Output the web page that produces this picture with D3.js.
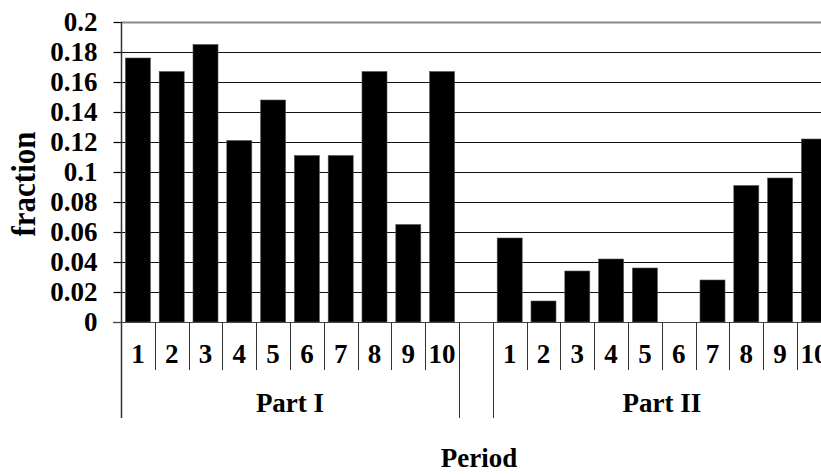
<!DOCTYPE html>
<html>
<head>
<meta charset="utf-8">
<script src="https://cdn.jsdelivr.net/npm/d3@7"></script>
<style>
  html, body { margin: 0; padding: 0; background: #fff; }
  svg { display: block; }
  text { font-family: "Liberation Serif", "Times New Roman", serif; font-weight: bold; fill: #000; }
</style>
</head>
<body>
<svg id="chart" width="821" height="474"></svg>
<script>
// ---- Data ----
const periods = ["1","2","3","4","5","6","7","8","9","10"];
const groups = ["Part I", "Part II"];
const partI = [0.176, 0.167, 0.185, 0.121, 0.148, 0.111, 0.111, 0.167, 0.065, 0.167];
const partII = [0.056, 0.014, 0.034, 0.042, 0.036, 0.0, 0.028, 0.091, 0.096, 0.122];
const yTicks = [0, 0.02, 0.04, 0.06, 0.08, 0.1, 0.12, 0.14, 0.16, 0.18, 0.2];
const yTickLabels = ["0","0.02","0.04","0.06","0.08","0.1","0.12","0.14","0.16","0.18","0.2"];
const yTitle = "fraction";
const xTitle = "Period";

// ---- Build category list (Part I, gap, Part II) ----
const cats = [];
periods.forEach((p, i) => cats.push({key: "I-" + p, label: p, group: 0, value: partI[i]}));
cats.push({key: "gap", label: "", group: -1, value: null});
periods.forEach((p, i) => cats.push({key: "II-" + p, label: p, group: 1, value: partII[i]}));

const FS = "27px";
const svg = d3.select("#chart");
const mLeft = 121, mTop = 22, mBottom = 322;
const step = 33.8;
const x = d3.scaleBand()
  .domain(cats.map(d => d.key))
  .range([mLeft, mLeft + step * cats.length])
  .paddingInner(0.26)
  .paddingOuter(0.13);
const xc = d3.scaleBand().domain(cats.map(d => d.key)).range([mLeft, mLeft + step * cats.length]).padding(0);
const y = d3.scaleLinear().domain([0, 0.2]).range([mBottom, mTop]);

// gridlines
svg.append("g").selectAll("line")
  .data(yTicks.filter(t => t > 0))
  .join("line")
  .attr("x1", mLeft).attr("x2", 821)
  .attr("y1", d => Math.round(y(d)) + 0.5).attr("y2", d => Math.round(y(d)) + 0.5)
  .attr("stroke", d => d === 0.2 ? "#8a8a8a" : "#111")
  .attr("stroke-width", d => d === 0.2 ? 2 : 1);

// bars
svg.append("g").selectAll("rect")
  .data(cats.filter(d => d.value !== null && d.value > 0))
  .join("rect")
  .attr("x", d => x(d.key))
  .attr("width", x.bandwidth())
  .attr("y", d => y(d.value))
  .attr("height", d => y(0) - y(d.value))
  .attr("fill", "#000")
  .attr("stroke", "#555")
  .attr("stroke-width", 0.6);

// y axis
const yAxis = d3.axisLeft(y).tickValues(yTicks)
  .tickFormat((d, i) => yTickLabels[i]).tickSize(8).tickPadding(16);
const gy = svg.append("g").attr("transform", `translate(${mLeft + 0.5},0)`).call(yAxis);
gy.select(".domain").remove();
gy.selectAll(".tick line").attr("stroke", "#000").attr("stroke-width", 1.2);
gy.selectAll("text").style("font-size", FS).style("font-family", '"Liberation Serif", serif').style("font-weight", "bold");
svg.append("line").attr("x1", mLeft + 0.5).attr("x2", mLeft + 0.5).attr("y1", mTop).attr("y2", 418)
  .attr("stroke", "#333").attr("stroke-width", 1.5);

// x axis line
svg.append("line").attr("x1", mLeft - 8).attr("x2", 821).attr("y1", mBottom + 0.5).attr("y2", mBottom + 0.5)
  .attr("stroke", "#444").attr("stroke-width", 1.2);

// category boundary ticks
const boundaries = cats.map(d => xc(d.key)).concat([xc(cats[cats.length - 1].key) + xc.bandwidth()]);
const longIdx = [0, 10, 11];
svg.append("g").selectAll("line")
  .data(boundaries.slice(1))
  .join("line")
  .attr("x1", d => Math.round(d) + 0.5).attr("x2", d => Math.round(d) + 0.5)
  .attr("y1", mBottom)
  .attr("y2", (d, i) => longIdx.includes(i + 1) ? 418 : 370)
  .attr("stroke", "#333").attr("stroke-width", 1);

// category labels
svg.append("g").selectAll("text")
  .data(cats.filter(d => d.label !== ""))
  .join("text")
  .attr("x", d => xc(d.key) + xc.bandwidth() / 2)
  .attr("y", 363)
  .attr("text-anchor", "middle")
  .style("font-size", FS)
  .text(d => d.label);

// group labels
groups.forEach((g, gi) => {
  const members = cats.filter(d => d.group === gi);
  const x0 = xc(members[0].key), x1 = xc(members[members.length - 1].key) + xc.bandwidth();
  svg.append("text").attr("x", (x0 + x1) / 2).attr("y", 412)
    .attr("text-anchor", "middle").style("font-size", FS).text(g);
});

// axis titles
svg.append("text").attr("x", 479).attr("y", 467).attr("text-anchor", "middle")
  .style("font-size", FS).text(xTitle);
svg.append("text").attr("transform", "translate(35,184) rotate(-90) scale(1,1.1)")
  .attr("text-anchor", "middle").style("font-size", "31px").text(yTitle);
</script>
</body>
</html>
